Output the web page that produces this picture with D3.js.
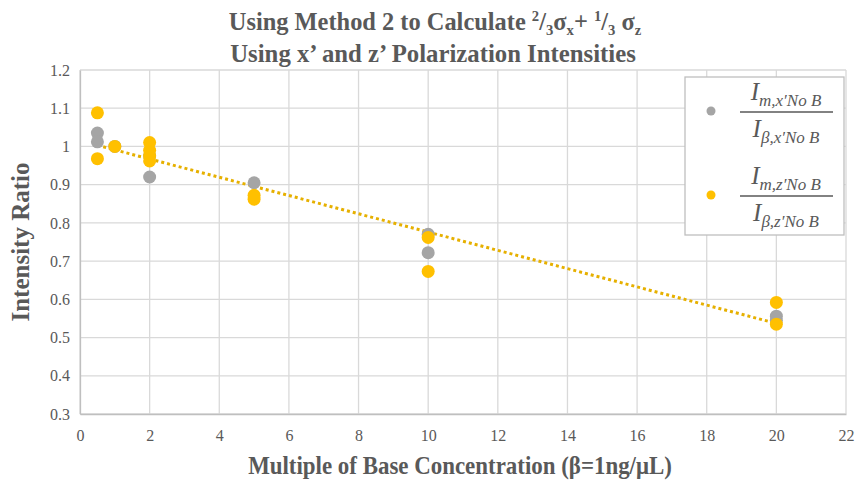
<!DOCTYPE html>
<html lang="en">
<head>
  <meta charset="UTF-8" />
  <title>Method 2 intensity ratio</title>
  <script src="https://d3js.org/d3.v7.min.js"></script>
  <style>
    body { margin: 0; background: #fff; }
    svg { display: block; font-family: "Liberation Serif", "Times New Roman", serif; }
    .grid line { stroke: #d9d9d9; stroke-width: 1.3; }
    .axis text { font-family: "Liberation Serif", "Times New Roman", serif; fill: #595959; font-size: 16px; }
  </style>
</head>
<body>
  <div id="chart"></div>
  <script>
    const width = 857, height = 480;
    const margin = { top: 70, right: 11, bottom: 66, left: 80 };

    // x' ratio (gray)
    const xSeriesX = [0.5, 0.5, 1, 2, 2, 5, 10, 10, 20, 20];
    const xSeriesY = [1.035, 1.012, 1.0, 0.975, 0.92, 0.905, 0.77, 0.722, 0.556, 0.545];
    // z' ratio (yellow)
    const zSeriesX = [0.5, 0.5, 1, 2, 2, 2, 2, 5, 5, 10, 10, 20, 20];
    const zSeriesY = [1.088, 0.968, 1.0, 1.01, 0.99, 0.975, 0.962, 0.872, 0.862, 0.762, 0.673, 0.592, 0.535];
    // linear trend line end points
    const trendX = [0.5, 20];
    const trendY = [1.003, 0.537];

    const xTicks = d3.range(0, 23, 2);
    const yTicks = [0.3, 0.4, 0.5, 0.6, 0.7, 0.8, 0.9, 1, 1.1, 1.2];

    const svg = d3.select('#chart').append('svg')
      .attr('width', width).attr('height', height);

    const x = d3.scaleLinear().domain([0, 22]).range([margin.left, width - margin.right]);
    const y = d3.scaleLinear().domain([0.3, 1.2]).range([height - margin.bottom, margin.top]);

    // squeeze a text horizontally to a given width (the source font is narrow)
    function fitWidth(sel, w, cx, cy) {
      const bw = sel.node().getBBox().width;
      const k = Math.min(1, w / bw);
      sel.attr('transform', `translate(${cx},${cy}) scale(${k},1)`);
    }

    // gridlines
    svg.append('g').attr('class', 'grid')
      .selectAll('line').data(yTicks).join('line')
      .attr('x1', x(0)).attr('x2', x(22))
      .attr('y1', d => y(d)).attr('y2', d => y(d));
    svg.append('g').attr('class', 'grid')
      .selectAll('line').data(xTicks).join('line')
      .attr('x1', d => x(d)).attr('x2', d => x(d))
      .attr('y1', y(0.3)).attr('y2', y(1.2));

    // axes
    const xAxis = svg.append('g').attr('class', 'axis').attr('transform', `translate(0,${y(0.3)})`)
      .call(d3.axisBottom(x).tickValues(xTicks).tickSize(0).tickPadding(16).tickFormat(d3.format('d')));
    const yAxis = svg.append('g').attr('class', 'axis').attr('transform', `translate(${x(0)},0)`)
      .call(d3.axisLeft(y).tickValues(yTicks).tickSize(0).tickPadding(10).tickFormat(d3.format('')));
    [xAxis, yAxis].forEach(a => {
      a.attr('font-family', 'Liberation Serif').attr('font-size', 16);
      a.select('.domain').attr('stroke', '#bfbfbf').attr('stroke-width', 1.3);
    });

    // trend line
    svg.append('path')
      .datum(d3.zip(trendX, trendY))
      .attr('d', d3.line().x(d => x(d[0])).y(d => y(d[1])))
      .attr('fill', 'none')
      .attr('stroke', '#e6b000')
      .attr('stroke-width', 3)
      .attr('stroke-dasharray', '3,3');

    // points
    svg.append('g').selectAll('circle').data(d3.zip(xSeriesX, xSeriesY)).join('circle')
      .attr('cx', d => x(d[0])).attr('cy', d => y(d[1])).attr('r', 6.5)
      .attr('fill', '#a5a5a5');
    svg.append('g').selectAll('circle').data(d3.zip(zSeriesX, zSeriesY)).join('circle')
      .attr('cx', d => x(d[0])).attr('cy', d => y(d[1])).attr('r', 6.5)
      .attr('fill', '#ffc000');

    // title
    const title = svg.append('text')
      .attr('text-anchor', 'middle')
      .attr('fill', '#595959').attr('font-weight', 'bold').attr('font-size', 25);
    title.append('tspan').text('Using Method 2 to Calculate ');
    title.append('tspan').attr('font-size', 15).attr('dy', -9).text('2');
    title.append('tspan').attr('dy', 9).text('/');
    title.append('tspan').attr('font-size', 15).attr('dy', 5).text('3');
    title.append('tspan').attr('dy', -5).text('σ');
    title.append('tspan').attr('font-size', 15).attr('dy', 5).text('x');
    title.append('tspan').attr('dy', -5).text('+ ');
    title.append('tspan').attr('font-size', 15).attr('dy', -9).text('1');
    title.append('tspan').attr('dy', 9).text('/');
    title.append('tspan').attr('font-size', 15).attr('dy', 5).text('3');
    title.append('tspan').attr('dy', -5).text(' σ');
    title.append('tspan').attr('font-size', 15).attr('dy', 5).text('z');
    fitWidth(title, 413, 435, 30);

    const title2 = svg.append('text')
      .attr('text-anchor', 'middle')
      .attr('fill', '#595959').attr('font-weight', 'bold').attr('font-size', 25)
      .text('Using x\u2019 and z\u2019 Polarization Intensities');
    fitWidth(title2, 406, 433, 62);

    // axis titles
    svg.append('text')
      .attr('transform', `translate(29,${y(0.75)}) rotate(-90)`)
      .attr('text-anchor', 'middle')
      .attr('fill', '#595959').attr('font-weight', 'bold').attr('font-size', 25)
      .text('Intensity Ratio');
    const xTitle = svg.append('text')
      .attr('text-anchor', 'middle')
      .attr('fill', '#595959').attr('font-weight', 'bold').attr('font-size', 25)
      .text('Multiple of Base Concentration (\u03b2=1ng/\u03bcL)');
    fitWidth(xTitle, 424, 460, 474);

    // legend
    const legend = svg.append('g');
    legend.append('rect')
      .attr('x', 685).attr('y', 77).attr('width', 159).attr('height', 158)
      .attr('fill', '#fff').attr('stroke', '#bfbfbf').attr('stroke-width', 1.3);

    const legendItems = [
      { color: '#a5a5a5', sub: 'x', cy: 111 },
      { color: '#ffc000', sub: 'z', cy: 195 }
    ];
    legendItems.forEach(item => {
      legend.append('circle').attr('cx', 711).attr('cy', item.cy).attr('r', 4.5).attr('fill', item.color);
      legend.append('line')
        .attr('x1', 740).attr('x2', 833).attr('y1', item.cy + 1).attr('y2', item.cy + 1)
        .attr('stroke', '#595959').attr('stroke-width', 1.6);
      const num = legend.append('text')
        .attr('fill', '#595959').attr('font-style', 'italic').attr('font-size', 25);
      num.append('tspan').text('I');
      num.append('tspan').attr('font-size', 17).attr('dy', 6).text(`m,${item.sub}\u2032No B`);
      num.attr('text-anchor', 'middle');
      fitWidth(num, 92, 786, item.cy - 11);
      const den = legend.append('text')
        .attr('fill', '#595959').attr('font-style', 'italic').attr('font-size', 25);
      den.append('tspan').text('I');
      den.append('tspan').attr('font-size', 17).attr('dy', 6).text(`\u03b2,${item.sub}\u2032No B`);
      den.attr('text-anchor', 'middle');
      fitWidth(den, 92, 786, item.cy + 26);
    });
  </script>
</body>
</html>
